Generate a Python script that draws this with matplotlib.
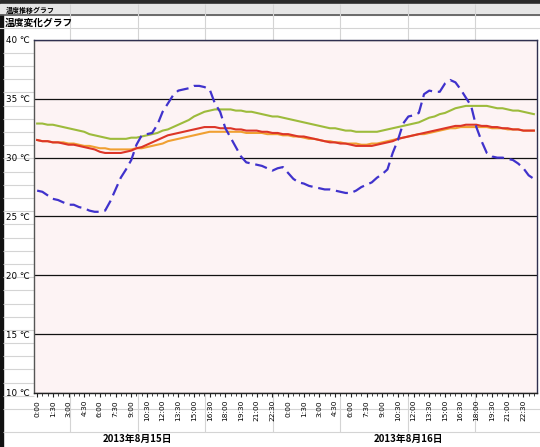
# -*- coding: utf-8 -*-
import matplotlib
matplotlib.use("Agg")
import matplotlib.pyplot as plt

plt.rcParams['font.family'] = ['DejaVu Sans', 'Noto Sans CJK JP']

# 30分ごとの測定値 (2日分 = 96点)
times = ["%d:%02d" % (m // 60, m % 60) for m in range(0, 24 * 60, 30)] * 2
days = ["2013年8月15日", "2013年8月16日"]

outside = [27.2, 27.1, 26.8, 26.5, 26.4, 26.2, 26.0, 26.0, 25.8, 25.7, 25.5, 25.4,
           25.4, 25.5, 26.3, 27.3, 28.3, 29.0, 29.8, 31.1, 31.9, 32.0, 32.1, 32.8,
           33.9, 34.6, 35.3, 35.7, 35.8, 35.9, 36.1, 36.1, 36.0, 35.8, 34.6, 33.9,
           32.5, 31.7, 30.9, 30.1, 29.6, 29.5, 29.4, 29.3, 29.1, 28.9, 29.1, 29.2,
           28.7, 28.2, 27.9, 27.8, 27.6, 27.5, 27.4, 27.3, 27.3, 27.2, 27.1, 27.0,
           27.0, 27.2, 27.5, 27.7, 27.9, 28.3, 28.6, 29.0, 30.4, 31.5, 32.9, 33.5,
           33.6, 33.8, 35.4, 35.7, 35.6, 35.6, 36.3, 36.6, 36.4, 35.8, 35.1, 34.4,
           32.6, 31.4, 30.4, 30.1, 30.0, 30.0, 29.9, 29.8, 29.5, 29.1, 28.5, 28.2]

green = [32.9, 32.9, 32.8, 32.8, 32.7, 32.6, 32.5, 32.4, 32.3, 32.2, 32.0, 31.9,
         31.8, 31.7, 31.6, 31.6, 31.6, 31.6, 31.7, 31.7, 31.8, 31.9, 32.0, 32.1,
         32.3, 32.4, 32.6, 32.8, 33.0, 33.2, 33.5, 33.7, 33.9, 34.0, 34.1, 34.1,
         34.1, 34.1, 34.0, 34.0, 33.9, 33.9, 33.8, 33.7, 33.6, 33.5, 33.5, 33.4,
         33.3, 33.2, 33.1, 33.0, 32.9, 32.8, 32.7, 32.6, 32.5, 32.5, 32.4, 32.3,
         32.3, 32.2, 32.2, 32.2, 32.2, 32.2, 32.3, 32.4, 32.5, 32.6, 32.7, 32.8,
         32.9, 33.0, 33.2, 33.4, 33.5, 33.7, 33.8, 34.0, 34.2, 34.3, 34.4, 34.4,
         34.4, 34.4, 34.4, 34.3, 34.2, 34.2, 34.1, 34.0, 34.0, 33.9, 33.8, 33.7]

red = [31.5, 31.4, 31.4, 31.3, 31.3, 31.2, 31.1, 31.1, 31.0, 30.9, 30.8, 30.7,
       30.5, 30.4, 30.4, 30.4, 30.4, 30.5, 30.6, 30.8, 30.9, 31.1, 31.3, 31.5,
       31.7, 31.9, 32.0, 32.1, 32.2, 32.3, 32.4, 32.5, 32.6, 32.6, 32.6, 32.5,
       32.5, 32.5, 32.4, 32.4, 32.3, 32.3, 32.3, 32.2, 32.2, 32.1, 32.1, 32.0,
       32.0, 31.9, 31.8, 31.8, 31.7, 31.6, 31.5, 31.4, 31.3, 31.3, 31.2, 31.2,
       31.1, 31.0, 31.0, 31.0, 31.0, 31.1, 31.2, 31.3, 31.4, 31.6, 31.7, 31.8,
       31.9, 32.0, 32.1, 32.2, 32.3, 32.4, 32.5, 32.6, 32.7, 32.7, 32.8, 32.8,
       32.8, 32.7, 32.7, 32.6, 32.6, 32.5, 32.5, 32.4, 32.4, 32.3, 32.3, 32.3]

orange = [31.5, 31.4, 31.4, 31.3, 31.3, 31.3, 31.2, 31.2, 31.1, 31.0, 31.0, 30.9,
          30.8, 30.8, 30.7, 30.7, 30.7, 30.7, 30.7, 30.8, 30.8, 30.9, 31.0, 31.1,
          31.2, 31.4, 31.5, 31.6, 31.7, 31.8, 31.9, 32.0, 32.1, 32.2, 32.2, 32.2,
          32.2, 32.2, 32.2, 32.2, 32.1, 32.1, 32.1, 32.1, 32.0, 32.0, 32.0, 31.9,
          31.9, 31.8, 31.8, 31.7, 31.6, 31.6, 31.5, 31.4, 31.4, 31.3, 31.3, 31.2,
          31.2, 31.2, 31.1, 31.1, 31.2, 31.2, 31.3, 31.4, 31.5, 31.6, 31.7, 31.8,
          31.9, 32.0, 32.0, 32.1, 32.2, 32.3, 32.4, 32.5, 32.5, 32.6, 32.6, 32.6,
          32.6, 32.6, 32.6, 32.5, 32.5, 32.5, 32.4, 32.4, 32.4, 32.3, 32.3, 32.3]

W, H = 540, 447
fig = plt.figure(figsize=(W / 100, H / 100), dpi=100)
fig.patch.set_facecolor('white')

# --- シートの背景 (セル罫線) ---
bg = fig.add_axes([0, 0, 1, 1], zorder=0)
bg.set_xlim(0, W)
bg.set_ylim(H, 0)
bg.axis('off')
cell = '#D4D4D4'
bg.axhspan(0, 4, color='#2A2A2A')
bg.axhspan(4, 15, color='#E6E6E6')
bg.axhline(15, color='#555555', lw=1.2)
bg.axhline(28.3, color=cell, lw=0.8)
cols = [70 + 67.5 * k for k in range(8)]
bg.vlines(cols, 4, 40, color=cell, lw=0.8)
rows = [52.7 + 13.2 * k for k in range(27)]
bg.hlines(rows, 3, 34, color=cell, lw=0.8)
bg.hlines([409, 431.5], 3, W, color=cell, lw=0.8)
bg.vlines(cols, 393, 431.5, color=cell, lw=0.8)
bg.axvspan(0, 3, ymin=0, ymax=1 - 15 / H, color='#111111')
bg.text(6, 10, '温度推移グラフ', fontsize=5, fontweight='bold',
        family=['Noto Sans CJK JP'], va='center')
bg.text(5, 22.5, '温度変化グラフ', fontsize=7, fontweight='bold',
        family=['Noto Sans CJK JP'], va='center')
bg.text(137, 439, days[0], fontsize=7, fontweight='bold',
        family=['Noto Sans CJK JP'], ha='center', va='center')
bg.text(408, 439, days[1], fontsize=7, fontweight='bold',
        family=['Noto Sans CJK JP'], ha='center', va='center')

# --- グラフ ---
ax = fig.add_axes([34 / W, 1 - 393 / H, (537 - 34) / W, (393 - 40) / H], zorder=1)
ax.set_facecolor('#FDF3F4')
x = list(range(len(times)))

ax.plot(x, green, color='#9DBB3C', lw=1.5, zorder=3)
ax.plot(x, orange, color='#F0A032', lw=1.5, zorder=3)
ax.plot(x, red, color='#DC3528', lw=1.5, zorder=4)
ax.plot(x, outside, color='#4032CC', lw=1.6, dashes=(5.5, 2.6), zorder=5)

ax.set_xlim(-0.6, len(times) - 0.4)
ax.set_ylim(10, 40)
ax.set_yticks(range(10, 41, 5))
ax.set_yticklabels(['%d ℃' % v for v in range(10, 41, 5)], fontsize=6.3,
                   ha='left')
ax.tick_params(axis='y', length=0, pad=20.5)
ax.grid(axis='y', color='#111111', lw=0.9)
ax.set_axisbelow(True)

ax.set_xticks(x[::3])
ax.set_xticklabels(times[::3], rotation=90, fontsize=5.3)
ax.set_xticks(x, minor=True)
ax.tick_params(axis='x', which='major', length=3, pad=2, color='#222222')
ax.tick_params(axis='x', which='minor', length=2, color='#222222')

for s in ['top', 'right']:
    ax.spines[s].set_color('#303050')
ax.spines['left'].set_color('#555555')
ax.spines['bottom'].set_color('#222222')
for s in ax.spines.values():
    s.set_linewidth(1.0)

fig.savefig('out.png', dpi=100)
